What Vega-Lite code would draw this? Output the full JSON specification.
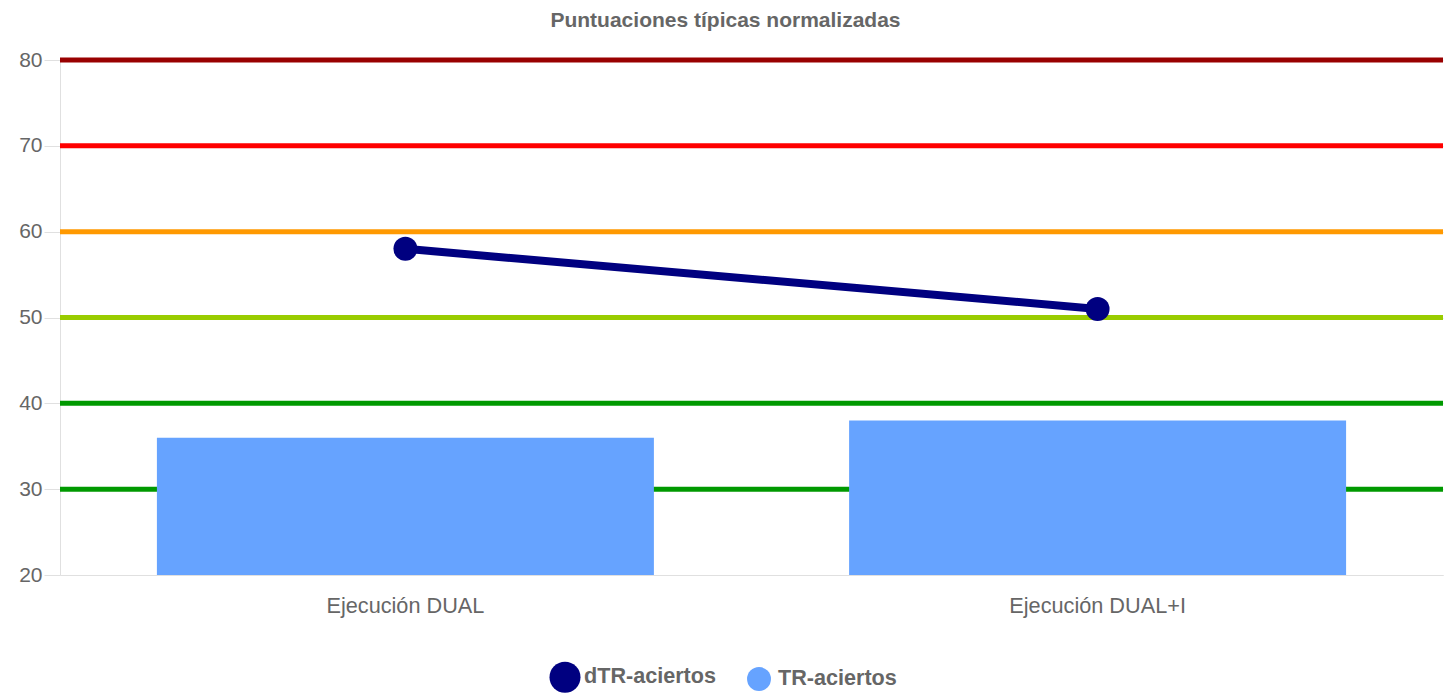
{
  "$schema": "https://vega.github.io/schema/vega-lite/v6.json",
  "width": 1383,
  "height": 515,
  "autosize": {"type": "none"},
  "padding": {"left": 60, "top": 60, "right": 12, "bottom": 118},
  "background": "white",
  "config": {"font": "Liberation Sans", "view": {"stroke": null}},
  "title": {
    "text": "Puntuaciones típicas normalizadas",
    "fontSize": 21,
    "fontWeight": "bold",
    "color": "#666666",
    "anchor": "middle",
    "offset": 18,
    "dx": -26
  },
  "datasets": {
    "niveles": [
      {"nivel": 30}, {"nivel": 40}, {"nivel": 50}, {"nivel": 60}, {"nivel": 70}, {"nivel": 80}
    ],
    "puntuaciones": [
      {"prueba": "Ejecución DUAL", "serie": "TR-aciertos", "valor": 36},
      {"prueba": "Ejecución DUAL+I", "serie": "TR-aciertos", "valor": 38},
      {"prueba": "Ejecución DUAL", "serie": "dTR-aciertos", "valor": 58},
      {"prueba": "Ejecución DUAL+I", "serie": "dTR-aciertos", "valor": 51}
    ]
  },
  "layer": [
    {
      "data": {"name": "niveles"},
      "mark": {"type": "rule", "strokeWidth": 5},
      "encoding": {
        "y": {
          "field": "nivel",
          "type": "quantitative",
          "scale": {"domain": [20, 80], "zero": false, "nice": false},
          "axis": {
            "title": null,
            "values": [20, 30, 40, 50, 60, 70, 80],
            "labelFontSize": 21,
            "labelColor": "#666666",
            "tickSize": 16,
            "tickColor": "#e0e0e0",
            "domainColor": "#e0e0e0",
            "grid": true,
            "gridColor": "#e0e0e0",
            "labelPadding": 2
          }
        },
        "stroke": {
          "field": "nivel",
          "type": "ordinal",
          "scale": {
            "domain": [30, 40, 50, 60, 70, 80],
            "range": ["#009900", "#009900", "#99cc00", "#ff9900", "#ff0000", "#990000"]
          },
          "legend": null
        }
      }
    },
    {
      "data": {"name": "puntuaciones"},
      "transform": [{"filter": "datum.serie === 'TR-aciertos'"}],
      "mark": {"type": "bar"},
      "encoding": {
        "x": {
          "field": "prueba",
          "type": "nominal",
          "sort": null,
          "scale": {"paddingInner": 0.282, "paddingOuter": 0.14},
          "axis": {
            "title": null,
            "labelAngle": 0,
            "labelFontSize": 21.7,
            "labelColor": "#666666",
            "ticks": false,
            "domainColor": "#e0e0e0",
            "labelPadding": 20
          }
        },
        "y": {"field": "valor", "type": "quantitative"},
        "y2": {"datum": 20},
        "color": {
          "field": "serie",
          "type": "nominal",
          "scale": {"domain": ["dTR-aciertos", "TR-aciertos"], "range": ["#000080", "#66a3ff"]},
          "legend": {
            "title": null,
            "orient": "none",
            "legendX": 493,
            "legendY": 605,
            "direction": "horizontal",
            "padding": 0,
            "symbolType": "circle",
            "symbolSize": 962,
            "symbolStrokeWidth": 0,
            "labelFontSize": 21.6,
            "labelFontWeight": "bold",
            "labelColor": "#666666",
            "labelOffset": 7,
            "columnPadding": 31,
            "encode": {
              "symbols": {
                "update": {
                  "fill": {"scale": "color", "field": "value"},
                  "fillOpacity": {"value": 1},
                  "size": {"signal": "datum.value === 'dTR-aciertos' ? 962 : 572"}
                }
              }
            }
          }
        }
      }
    },
    {
      "data": {"name": "puntuaciones"},
      "transform": [{"filter": "datum.serie === 'dTR-aciertos'"}],
      "mark": {"type": "line", "strokeWidth": 8},
      "encoding": {
        "x": {"field": "prueba", "type": "nominal", "sort": null},
        "y": {"field": "valor", "type": "quantitative"},
        "color": {"field": "serie", "type": "nominal"}
      }
    },
    {
      "data": {"name": "puntuaciones"},
      "transform": [{"filter": "datum.serie === 'dTR-aciertos'"}],
      "mark": {"type": "point", "filled": true, "size": 573, "opacity": 1},
      "encoding": {
        "x": {"field": "prueba", "type": "nominal", "sort": null},
        "y": {"field": "valor", "type": "quantitative"},
        "color": {"field": "serie", "type": "nominal"}
      }
    }
  ]
}
